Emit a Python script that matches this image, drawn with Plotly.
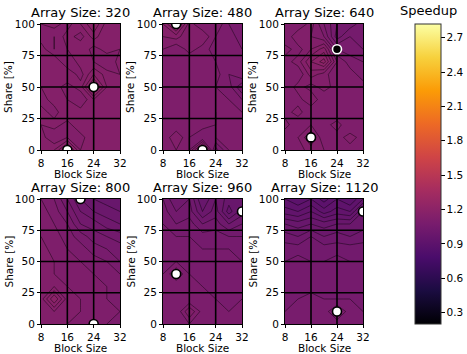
import plotly.graph_objects as go

# ---------------- data ----------------
block_sizes = [8, 12, 16, 20, 24, 28, 32]
shares = [0, 10, 20, 30, 40, 50, 60, 70, 80, 90, 100]
array_sizes = [320, 480, 640, 800, 960, 1120]

# rows: share 0 -> 100 ; columns: block size 8 -> 32
speedup_320 = [
    [1.14, 1.16, 1.22, 1.14, 1.15, 1.14, 1.16],
    [1.15, 1.12, 1.14, 1.13, 1.16, 1.15, 1.14],
    [1.14, 1.15, 1.13, 1.16, 1.15, 1.14, 1.15],
    [1.15, 1.13, 1.16, 1.15, 1.14, 1.15, 1.14],
    [1.13, 1.15, 1.14, 1.12, 1.16, 1.14, 1.15],
    [1.14, 1.15, 1.13, 1.15, 1.24, 1.16, 1.15],
    [1.15, 1.14, 1.16, 1.13, 1.18, 1.15, 1.14],
    [1.14, 1.16, 1.12, 1.15, 1.14, 1.12, 1.15],
    [1.15, 1.12, 1.14, 1.16, 1.13, 1.15, 1.14],
    [1.13, 1.12, 1.15, 1.13, 1.17, 1.14, 1.15],
    [1.14, 1.15, 1.13, 1.16, 1.20, 1.15, 1.14],
]
speedup_480 = [
    [1.11, 1.12, 1.10, 1.20, 1.05, 1.10, 1.12],
    [1.10, 1.14, 1.10, 1.08, 1.10, 1.11, 1.10],
    [1.12, 1.10, 1.12, 1.11, 1.10, 1.12, 1.11],
    [1.11, 1.12, 1.10, 1.12, 1.10, 1.11, 1.10],
    [1.12, 1.10, 1.12, 1.11, 1.12, 1.10, 1.08],
    [1.11, 1.12, 1.11, 1.12, 1.10, 1.09, 1.04],
    [1.12, 1.11, 1.12, 1.10, 1.11, 1.08, 1.10],
    [1.11, 1.12, 1.10, 1.12, 1.10, 1.09, 1.10],
    [1.12, 1.10, 1.13, 1.11, 1.09, 1.10, 1.08],
    [1.14, 1.15, 1.12, 1.14, 1.10, 1.09, 1.07],
    [1.16, 1.22, 1.13, 1.10, 1.12, 1.08, 1.06],
]
speedup_640 = [
    [1.12, 1.11, 1.13, 1.12, 1.10, 1.11, 1.12],
    [1.10, 1.12, 1.16, 1.10, 1.11, 1.13, 1.11],
    [1.13, 1.10, 1.12, 1.11, 1.13, 1.10, 1.12],
    [1.11, 1.13, 1.10, 1.12, 1.10, 1.12, 1.11],
    [1.12, 1.11, 1.14, 1.10, 1.12, 1.11, 1.10],
    [1.10, 1.13, 1.11, 1.13, 1.11, 1.10, 1.11],
    [1.12, 1.10, 1.15, 1.13, 1.10, 1.11, 1.09],
    [1.11, 1.13, 1.18, 1.21, 1.12, 1.09, 1.08],
    [1.13, 1.11, 1.14, 1.17, 1.08, 1.07, 1.06],
    [1.10, 1.14, 1.12, 1.10, 1.03, 1.06, 1.05],
    [1.12, 1.10, 1.13, 1.08, 1.04, 1.03, 1.05],
]
speedup_800 = [
    [1.12, 1.13, 1.12, 1.12, 1.11, 1.10, 1.10],
    [1.13, 1.14, 1.13, 1.12, 1.11, 1.11, 1.10],
    [1.13, 1.20, 1.13, 1.12, 1.11, 1.10, 1.10],
    [1.13, 1.14, 1.12, 1.11, 1.11, 1.10, 1.09],
    [1.13, 1.12, 1.12, 1.11, 1.10, 1.09, 1.08],
    [1.13, 1.12, 1.11, 1.10, 1.09, 1.08, 1.06],
    [1.13, 1.11, 1.10, 1.09, 1.07, 1.06, 1.05],
    [1.12, 1.11, 1.09, 1.07, 1.05, 1.04, 1.03],
    [1.12, 1.10, 1.08, 1.04, 1.03, 1.01, 1.00],
    [1.11, 1.09, 1.06, 1.02, 1.00, 0.99, 0.98],
    [1.10, 1.08, 1.04, 1.00, 0.98, 0.97, 0.96],
]
speedup_960 = [
    [1.09, 1.09, 1.10, 1.09, 1.09, 1.09, 1.09],
    [1.09, 1.08, 1.14, 1.09, 1.09, 1.08, 1.09],
    [1.09, 1.09, 1.08, 1.09, 1.08, 1.08, 1.08],
    [1.09, 1.08, 1.09, 1.08, 1.08, 1.08, 1.08],
    [1.08, 1.12, 1.08, 1.08, 1.08, 1.07, 1.07],
    [1.08, 1.08, 1.08, 1.07, 1.07, 1.07, 1.06],
    [1.08, 1.07, 1.07, 1.06, 1.06, 1.06, 1.05],
    [1.07, 1.06, 1.06, 1.05, 1.05, 1.04, 1.04],
    [1.06, 1.04, 1.05, 1.02, 1.03, 1.00, 1.02],
    [1.05, 1.02, 1.03, 0.98, 1.01, 0.95, 0.99],
    [1.04, 1.00, 1.02, 0.96, 1.00, 0.97, 0.96],
]
speedup_1120 = [
    [1.07, 1.06, 1.07, 1.06, 1.07, 1.06, 1.07],
    [1.06, 1.07, 1.06, 1.07, 1.10, 1.07, 1.06],
    [1.06, 1.06, 1.07, 1.06, 1.06, 1.06, 1.06],
    [1.06, 1.06, 1.05, 1.06, 1.06, 1.06, 1.06],
    [1.05, 1.05, 1.06, 1.05, 1.05, 1.05, 1.05],
    [1.04, 1.05, 1.04, 1.04, 1.05, 1.04, 1.04],
    [1.03, 1.03, 1.03, 1.03, 1.03, 1.03, 1.03],
    [1.01, 1.00, 1.02, 1.00, 1.01, 1.00, 1.01],
    [0.98, 0.97, 0.98, 0.97, 0.98, 0.98, 0.99],
    [0.93, 0.92, 0.94, 0.91, 0.93, 0.92, 0.98],
    [0.90, 0.88, 0.90, 0.87, 0.90, 0.88, 0.92],
]
speedups = [speedup_320, speedup_480, speedup_640, speedup_800, speedup_960, speedup_1120]

marker_block = [[24, 16], [12, 20], [24, 16], [20, 24], [32, 12], [32, 24]]
marker_share = [[50, 0], [100, 0], [80, 10], [100, 0], [90, 40], [90, 10]]
marker_fill = [["white", "white"], ["white", "white"], ["black", "white"],
               ["white", "white"], ["white", "white"], ["white", "white"]]
marker_edge = [["black", "black"], ["black", "black"], ["white", "black"],
               ["black", "black"], ["black", "black"], ["black", "black"]]

x_ticks = [8, 16, 24, 32]
y_ticks = [0, 25, 50, 75, 100]
cbar_ticks = [0.3, 0.6, 0.9, 1.2, 1.5, 1.8, 2.1, 2.4, 2.7]
z_min, z_max = 0.2, 2.82

# ---------------- layout geometry ----------------
W, H = 467, 354
col_px = [(41, 120), (163, 242), (285, 363)]
row_px = [(24, 150), (199, 324)]
FONT = "DejaVu Sans"
TICK_SIZE = 10.5

fig = go.Figure()
layout = dict(
    width=W, height=H, margin=dict(l=0, r=0, t=0, b=0, autoexpand=False),
    paper_bgcolor="white", plot_bgcolor="white",
    showlegend=False, font=dict(family=FONT, size=11, color="black"),
    coloraxis=dict(colorscale="Inferno", cmin=z_min, cmax=z_max, showscale=False),
    coloraxis2=dict(
        colorscale="Inferno", cmin=z_min, cmax=z_max, showscale=True,
        colorbar=dict(
            x=415 / W, xanchor="left", xref="paper", xpad=0, ypad=0,
            y=1 - 24 / H, yanchor="top", len=300, lenmode="pixels",
            thickness=26, thicknessmode="pixels",
            outlinewidth=1, outlinecolor="#333",
            tickvals=cbar_ticks, ticktext=[f"{t:.1f}" for t in cbar_ticks],
            ticks="outside", ticklen=3.5, tickwidth=0.8, tickcolor="black",
            tickfont=dict(family=FONT, size=TICK_SIZE, color="black"),
        ),
    ),
)
annotations = []

for i, (size, z) in enumerate(zip(array_sizes, speedups)):
    r, c = divmod(i, 3)
    n = i + 1
    xa = "x" if n == 1 else f"x{n}"
    ya = "y" if n == 1 else f"y{n}"
    xkey = "xaxis" if n == 1 else f"xaxis{n}"
    ykey = "yaxis" if n == 1 else f"yaxis{n}"
    x0, x1 = col_px[c]
    y0, y1 = row_px[r]
    axis_common = dict(
        showgrid=False, zeroline=False, showline=True, mirror=True,
        linecolor="black", linewidth=1, ticks="outside", ticklen=3,
        tickwidth=0.8, tickcolor="black",
        tickfont=dict(family=FONT, size=TICK_SIZE, color="black"),
    )
    layout[xkey] = dict(axis_common, domain=[x0 / W, x1 / W], anchor=ya,
                        range=[block_sizes[0], block_sizes[-1]],
                        tickvals=x_ticks)
    layout[ykey] = dict(axis_common, domain=[1 - y1 / H, 1 - y0 / H], anchor=xa,
                        range=[shares[0], shares[-1]], tickvals=y_ticks)

    fig.add_trace(go.Contour(
        x=block_sizes, y=shares, z=z, coloraxis="coloraxis",
        autocontour=False,
        contours=dict(start=z_min, end=z_max, size=0.02, coloring="fill"),
        line=dict(color="rgba(0,0,0,0.7)", width=0.6, smoothing=0),
        xaxis=xa, yaxis=ya, hoverinfo="skip",
    ))
    # grid lines drawn over the filled contours
    for xv in x_ticks[1:-1]:
        fig.add_trace(go.Scatter(x=[xv, xv], y=[y_ticks[0], y_ticks[-1]], mode="lines",
                                 line=dict(color="black", width=1.6),
                                 xaxis=xa, yaxis=ya, hoverinfo="skip"))
    for yv in y_ticks[1:-1]:
        fig.add_trace(go.Scatter(x=[x_ticks[0], x_ticks[-1]], y=[yv, yv], mode="lines",
                                 line=dict(color="black", width=1.6),
                                 xaxis=xa, yaxis=ya, hoverinfo="skip"))
    fig.add_trace(go.Scatter(
        x=marker_block[i], y=marker_share[i], mode="markers",
        marker=dict(size=9, color=marker_fill[i],
                    line=dict(color=marker_edge[i], width=1.6)),
        xaxis=xa, yaxis=ya, hoverinfo="skip",
    ))

    cx = (x0 + x1) / 2 / W
    annotations.append(dict(text=f"Array Size: {size}", x=cx, y=1 - y0 / H,
                            xref="paper", yref="paper", xanchor="center",
                            yanchor="bottom", yshift=2, showarrow=False,
                            font=dict(family=FONT, size=13, color="black")))
    annotations.append(dict(text="Block Size", x=cx, y=1 - y1 / H,
                            xref="paper", yref="paper", xanchor="center",
                            yanchor="top", yshift=-16, showarrow=False,
                            font=dict(family=FONT, size=TICK_SIZE, color="black")))
    annotations.append(dict(text="Share [%]", x=x0 / W, y=1 - (y0 + y1) / 2 / H,
                            xref="paper", yref="paper", xanchor="center",
                            yanchor="middle", xshift=-33, textangle=-90,
                            showarrow=False,
                            font=dict(family=FONT, size=TICK_SIZE, color="black")))

# colour bar carrier (no visible marks): maps the speedup range to the colour axis
fig.add_trace(go.Scatter(x=[None, None], y=[None, None], mode="markers",
                         marker=dict(color=[z_min, z_max], coloraxis="coloraxis2"),
                         xaxis="x", yaxis="y", hoverinfo="skip"))

annotations.append(dict(text="Speedup", x=428 / W, y=1 - 11 / H, xref="paper",
                        yref="paper", xanchor="center", yanchor="middle",
                        showarrow=False,
                        font=dict(family=FONT, size=13, color="black")))
layout["annotations"] = annotations
fig.update_layout(**layout)
fig.write_html("out.html", config={"displayModeBar": False},
               post_script="document.body.style.margin='0';"
                           "document.body.style.overflow='hidden';")
